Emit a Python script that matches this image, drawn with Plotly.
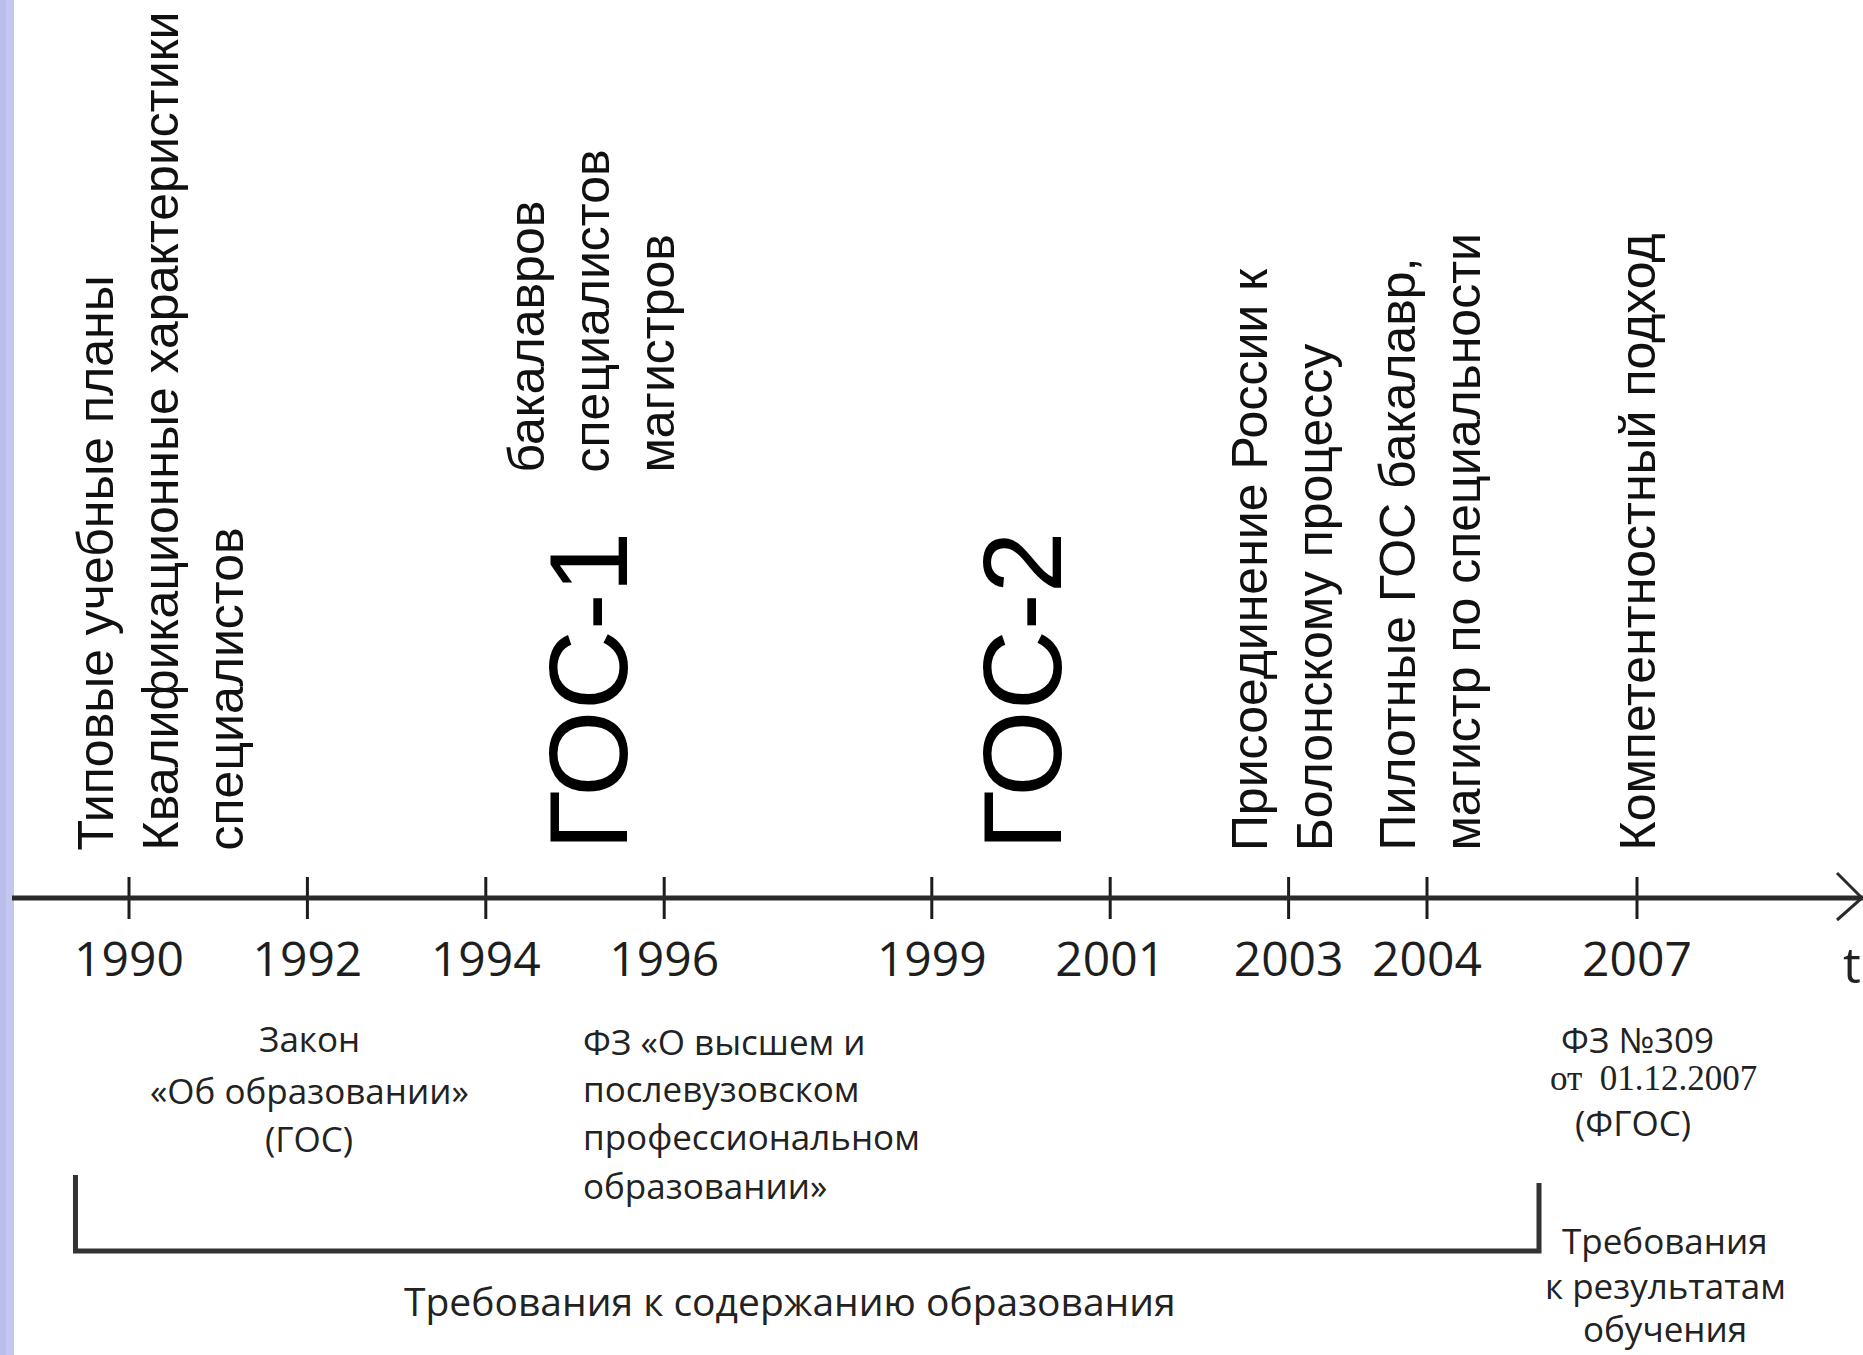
import plotly.graph_objects as go

# ---------------- data ----------------
years = [1990, 1992, 1994, 1996, 1999, 2001, 2003, 2004, 2007]
year_labels = ["1990", "1992", "1994", "1996", "1999", "2001", "2003", "2004", "2007"]

event_years = [1990, 1995, 2003, 2004, 2007]
event_lines = [
    ["Типовые учебные планы", "Квалификационные характеристики", "специалистов"],
    ["бакалавров", "специалистов", "магистров"],
    ["Присоединение России к", "Болонскому процессу"],
    ["Пилотные ГОС бакалавр,", "магистр по специальности"],
    ["Компетентностный подход"],
]

standard_names = ["ГОС-1", "ГОС-2"]
standard_years = [1995, 2000]

law_years = [1992, 1996, 2007]
law_lines = [
    ["Закон", "«Об образовании»", "(ГОС)"],
    ["ФЗ «О высшем и", "послевузовском", "профессиональном", "образовании»"],
    ["ФЗ №309", "от  01.12.2007", "(ФГОС)"],
]

content_req_label = "Требования к содержанию образования"
content_req_start = 1989.4
content_req_end = 2005.6
result_req_year = 2007
result_req_lines = ["Требования", "к результатам", "обучения"]

# ---------------- layout constants ----------------
W, H = 1863, 1355
AXIS_PX = 898              # axis position from top (px)
BREAK_YEAR = 2003.5        # timeline scale changes here (schematic)
SPLIT_PX = 1356
A1_PX0, A1_Y0, A1_K = 129.0, 1990, 89.2   # px of 1990, px per year (segment 1)
A2_PX0, A2_Y0, A2_K = 1427.0, 2004, 70.0  # px of 2004, px per year (segment 2)
LEFT_PX = 12

r1 = [A1_Y0 + (LEFT_PX - A1_PX0) / A1_K, A1_Y0 + (SPLIT_PX - A1_PX0) / A1_K]
r2 = [A2_Y0 + (SPLIT_PX - A2_PX0) / A2_K, A2_Y0 + (W - A2_PX0) / A2_K]

def xr(y):
    return "x" if y < BREAK_YEAR else "x2"

INK = "#1c1c1c"
VFONT = dict(family="Liberation Sans, Arial, sans-serif", size=50, color="#111111")
BIGFONT = dict(family="Liberation Sans Narrow, Arial Narrow, Liberation Sans, sans-serif", size=111, color="#000000")
BFONT = dict(family="Open Sans, sans-serif", size=35, color="#222222")
SERIF = dict(family="Liberation Serif, Times New Roman, serif", size=35, color="#222222")

fig = go.Figure()

# tick marks crossing the axis
y1 = [y for y in years if y < BREAK_YEAR]
y2 = [y for y in years if y >= BREAK_YEAR]
for xs, ax in ((y1, "x"), (y2, "x2")):
    fig.add_trace(go.Scatter(
        x=xs, y=[0] * len(xs), xaxis=ax, yaxis="y", mode="markers",
        marker=dict(symbol="line-ns", size=30, line=dict(width=3, color=INK)),
        hoverinfo="skip", showlegend=False, cliponaxis=False))

# bracket "content requirements"
BR_Y, BR_L_TOP, BR_R_TOP = -353, -277, -285
fig.add_trace(go.Scatter(
    x=[content_req_start, content_req_start, r1[1]], y=[BR_L_TOP, BR_Y, BR_Y],
    xaxis="x", yaxis="y", mode="lines", line=dict(color="#333333", width=5),
    hoverinfo="skip", showlegend=False))
fig.add_trace(go.Scatter(
    x=[r2[0], content_req_end, content_req_end], y=[BR_Y, BR_Y, BR_R_TOP],
    xaxis="x2", yaxis="y", mode="lines", line=dict(color="#333333", width=5),
    hoverinfo="skip", showlegend=False))

ann = []
# vertical event texts
ev_shift = {1990: 31, 1995: 16, 2003: -6, 2004: 3, 2007: 0}
ev_bottom = {1990: 45, 1995: 423, 2003: 45, 2004: 45, 2007: 45}
for yr, lines in zip(event_years, event_lines):
    ann.append(dict(x=yr, xref=xr(yr), y=ev_bottom[yr], yref="y",
                    text="<br>".join(lines), textangle=-90, align="left",
                    xanchor="center", yanchor="bottom", xshift=ev_shift[yr],
                    showarrow=False, font=VFONT))

# big standard labels
st_shift = {1995: 13, 2000: 1}
for name, yr in zip(standard_names, standard_years):
    ann.append(dict(x=yr, xref=xr(yr), y=45, yref="y", text=name, textangle=-90,
                    xanchor="center", yanchor="bottom", xshift=st_shift[yr],
                    showarrow=False, font=BIGFONT))

# laws below the axis
law_y = {1992: [-140, -192, -240], 1996: [-143, -190, -238, -287], 2007: [-141, -180, -224]}
law_anchor = {1992: ("center", 2), 1996: ("left", -83), 2007: ("center", 0)}
law_line_shift = {2007: [0, 16, -4]}
for yr, lines in zip(law_years, law_lines):
    anc, sh = law_anchor[yr]
    for i, line in enumerate(lines):
        f = BFONT
        if yr == 2007 and i == 1:
            f = SERIF
        extra = law_line_shift.get(yr, [0] * len(lines))[i]
        ann.append(dict(x=yr, xref=xr(yr), y=law_y[yr][i], yref="y", text=line,
                        xanchor=anc, yanchor="middle", align=anc if anc != "center" else "center",
                        xshift=sh + extra, showarrow=False, font=f))

# bracket label
mid = (content_req_start + content_req_end) / 2
ann.append(dict(x=mid, xref="x", y=-402, yref="y", text=content_req_label,
                xanchor="center", yanchor="middle", xshift=-8, showarrow=False,
                font=dict(family="Open Sans, sans-serif", size=39, color="#222222")))

# result requirements
for i, line in enumerate(result_req_lines):
    ann.append(dict(x=result_req_year, xref=xr(result_req_year), y=[-342, -387, -430][i], yref="y",
                    text=line, xanchor="center", yanchor="middle", xshift=28,
                    showarrow=False, font=BFONT))

# "t" axis name at the right edge
ann.append(dict(x=1841 / W, xref="paper", y=-66, yref="y", text="t", xanchor="left",
                yanchor="middle", showarrow=False,
                font=dict(family="Open Sans, sans-serif", size=50, color="#222222")))

shapes = [
    # left lavender strip
    dict(type="rect", xref="paper", yref="paper", x0=0, x1=14 / W, y0=0, y1=1,
         fillcolor="#c4c7ee", line=dict(width=0), layer="below"),
    dict(type="rect", xref="paper", yref="paper", x0=0, x1=6 / W, y0=0, y1=1,
         fillcolor="#b9bde9", line=dict(width=0), layer="below"),
    # axis line
    dict(type="line", xref="paper", yref="y", x0=LEFT_PX / W, x1=1, y0=0, y1=0,
         line=dict(color="#2a2a2a", width=5)),
    # arrow head
    dict(type="path", xref="paper", yref="y",
         path=f"M {1837 / W},25 L {1862 / W},0 L {1837 / W},-22",
         line=dict(color="#2a2a2a", width=3)),
]

pos = (H - AXIS_PX) / H
axis_common = dict(showgrid=False, zeroline=False, showline=False, ticks="",
                   anchor="free", position=pos, side="bottom",
                   tickfont=dict(family="Open Sans, sans-serif", size=48, color="#1e1e1e"),
                   ticklabelstandoff=29, fixedrange=True)

fig.update_layout(
    width=W, height=H, margin=dict(l=0, r=0, t=0, b=0),
    paper_bgcolor="white", plot_bgcolor="white", showlegend=False, hovermode=False,
    xaxis=dict(domain=[LEFT_PX / W, SPLIT_PX / W], range=r1,
               tickvals=y1, ticktext=[year_labels[years.index(y)] for y in y1], **axis_common),
    xaxis2=dict(domain=[SPLIT_PX / W, 1], range=r2,
                tickvals=y2, ticktext=[year_labels[years.index(y)] for y in y2], **axis_common),
    yaxis=dict(domain=[0, 1], range=[-(H - AXIS_PX), AXIS_PX], visible=False, fixedrange=True),
    annotations=ann, shapes=shapes,
)

fig.write_html("out.html", config={"displayModeBar": False},
               post_script="document.body.style.margin='0';document.body.style.overflow='hidden';")
